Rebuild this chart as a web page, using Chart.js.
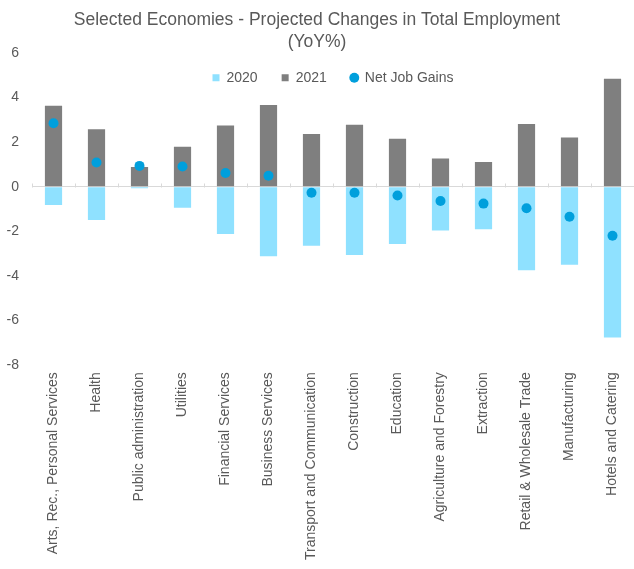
<!DOCTYPE html>
<html>
<head>
<meta charset="utf-8">
<script src="https://cdn.jsdelivr.net/npm/chart.js@4"></script>
<style>
  html, body { margin: 0; padding: 0; background: #fff; }
  #wrap { width: 634px; height: 569px; }
</style>
</head>
<body>
<div id="wrap"><canvas id="grafico-emprego"></canvas></div>
<script>
const setores = [
  'Arts, Rec., Personal Services', 'Health', 'Public administration', 'Utilities',
  'Financial Services', 'Business Services', 'Transport and Communication', 'Construction',
  'Education', 'Agriculture and Forestry', 'Extraction', 'Retail & Wholesale Trade',
  'Manufacturing', 'Hotels and Catering'
];
const var2020 = [-0.82, -1.49, -0.07, -0.94, -2.12, -3.12, -2.65, -3.06, -2.57, -1.96, -1.91, -3.75, -3.50, -6.76];
const var2021 = [3.63, 2.57, 0.88, 1.79, 2.74, 3.66, 2.36, 2.77, 2.15, 1.26, 1.11, 2.81, 2.20, 4.84];
const saldoLiquido = [2.84, 1.08, 0.93, 0.90, 0.61, 0.49, -0.27, -0.27, -0.40, -0.64, -0.76, -0.97, -1.35, -2.20];

const corTexto = '#595959';
const fonte = 'Liberation Sans, Arial, sans-serif';

// legenda desenhada dentro da área do gráfico: não ocupa altura no layout
const legendaInterna = {
  id: 'legendaInterna',
  beforeInit(chart) {
    const legenda = chart.legend;
    const fitOriginal = legenda.fit;
    const drawOriginal = legenda.draw;
    legenda.fit = function () {
      fitOriginal.call(this);
      this._alturaReal = this.height;
      this.height = 0;
    };
    // o draw recorta pela caixa da legenda, então devolve a altura só na hora de desenhar
    legenda.draw = function () {
      const topo = this.top;
      const fundo = this.bottom;
      this.top = topo - 6;
      this.bottom = this.top + (this._alturaReal || 40);
      drawOriginal.call(this);
      this.top = topo;
      this.bottom = fundo;
    };
  }
};

// pequenos traços de categoria sobre a linha do zero
const tracosEixo = {
  id: 'tracosEixo',
  beforeDatasetsDraw(chart) {
    const { ctx, scales: { x, y } } = chart;
    const y0 = Math.round(y.getPixelForValue(0)) + 0.5;
    const passo = x.getPixelForValue(1) - x.getPixelForValue(0);
    ctx.save();
    ctx.strokeStyle = '#d9d9d9';
    ctx.lineWidth = 1;
    ctx.beginPath();
    for (let i = 0; i <= setores.length; i++) {
      const px = Math.round(x.getPixelForValue(i) - passo / 2) + 0.5;
      ctx.moveTo(px, y0);
      ctx.lineTo(px, y0 - 4);
    }
    ctx.stroke();
    ctx.restore();
  }
};

new Chart(document.getElementById('grafico-emprego'), {
  type: 'bar',
  data: {
    labels: setores,
    datasets: [
      {
        label: '2020',
        data: var2020,
        backgroundColor: '#8fe1ff',
        borderWidth: 0,
        stack: 'emprego',
        pointStyle: 'rect',
        order: 1
      },
      {
        label: '2021',
        data: var2021,
        backgroundColor: '#7f7f7f',
        borderWidth: 0,
        stack: 'emprego',
        pointStyle: 'rect',
        order: 1
      },
      {
        type: 'line',
        label: 'Net Job Gains',
        data: saldoLiquido,
        showLine: false,
        stack: 'saldo',
        pointStyle: 'circle',
        pointRadius: 5,
        pointHoverRadius: 5,
        pointBackgroundColor: '#009fdc',
        pointBorderWidth: 0,
        backgroundColor: '#009fdc',
        borderColor: '#009fdc',
        order: 0
      }
    ]
  },
  options: {
    responsive: true,
    maintainAspectRatio: false,
    animation: false,
    events: [],
    layout: { autoPadding: false, padding: { left: 0, right: 0, top: 0, bottom: 2 } },
    categoryPercentage: 0.4,
    barPercentage: 1,
    plugins: {
      title: {
        display: true,
        text: ['Selected Economies - Projected Changes in Total Employment', '(YoY%)'],
        color: corTexto,
        font: { family: fonte, size: 17.5, weight: 'normal', lineHeight: 1.25 },
        padding: { top: 9, bottom: 0 }
      },
      legend: {
        position: 'top',
        fullSize: false,
        labels: {
          usePointStyle: true,
          boxWidth: 7,
          boxHeight: 7,
          padding: 24,
          color: corTexto,
          font: { family: fonte, size: 14 },
          sort: (a, b) => a.datasetIndex - b.datasetIndex
        }
      },
      tooltip: { enabled: false }
    },
    scales: {
      x: {
        stacked: true,
        grid: { display: false, drawTicks: false },
        border: { display: false },
        ticks: {
          color: corTexto,
          font: { family: fonte, size: 14 },
          minRotation: 90,
          maxRotation: 90,
          autoSkip: false,
          padding: 7
        },
        afterFit(escala) {
          // as categorias vão até a borda direita do canvas
          escala.paddingLeft = 0;
          escala.paddingRight = 0;
        }
      },
      y: {
        stacked: true,
        min: -8,
        max: 6,
        border: { display: false },
        grid: {
          drawTicks: false,
          color: (c) => (c.tick && c.tick.value === 0 ? '#d9d9d9' : 'rgba(0,0,0,0)')
        },
        ticks: {
          stepSize: 2,
          color: corTexto,
          font: { family: fonte, size: 14 },
          padding: 13
        },
        afterFit(escala) {
          escala.width = 32;
        }
      }
    }
  },
  plugins: [legendaInterna, tracosEixo]
});
</script>
</body>
</html>
